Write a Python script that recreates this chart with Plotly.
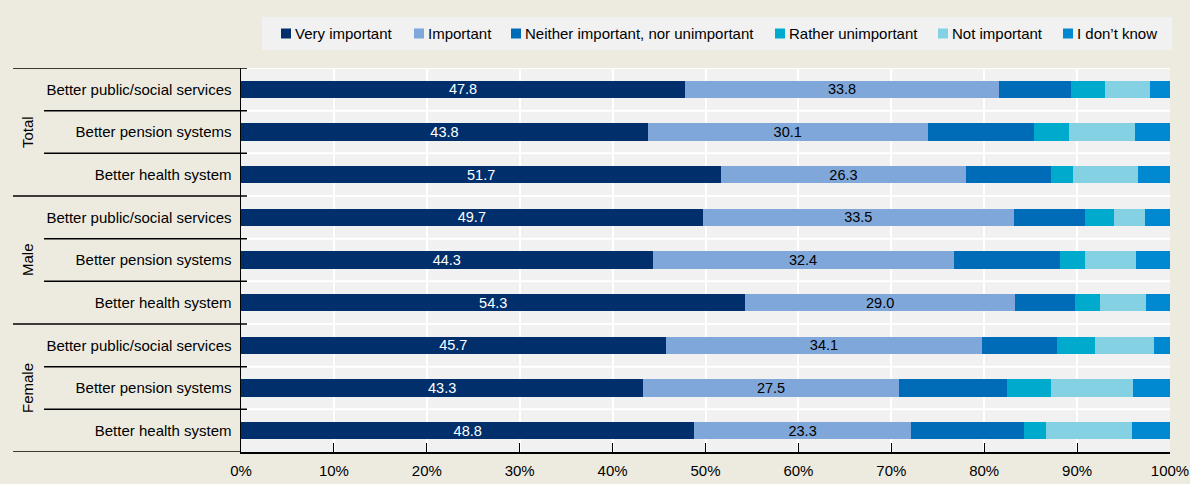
import plotly.graph_objects as go

# ---- data ----
groups = ["Total", "Male", "Female"]
items = ["Better public/social services", "Better pension systems", "Better health system"]
series_names = ["Very important", "Important", "Neither important, nor unimportant",
                "Rather unimportant", "Not important", "I don\u2019t know"]
very_important = [47.8, 43.8, 51.7, 49.7, 44.3, 54.3, 45.7, 43.3, 48.8]
important = [33.8, 30.1, 26.3, 33.5, 32.4, 29.0, 34.1, 27.5, 23.3]
neither = [7.7, 11.5, 9.2, 7.6, 11.5, 6.5, 8.0, 11.7, 12.2]
rather_unimportant = [3.7, 3.7, 2.4, 3.2, 2.7, 2.7, 4.1, 4.7, 2.3]
not_important = [4.8, 7.1, 7.0, 3.3, 5.4, 4.9, 6.4, 8.8, 9.3]
dont_know = [2.2, 3.8, 3.4, 2.7, 3.7, 2.6, 1.7, 4.0, 4.1]
x_ticks = [0, 10, 20, 30, 40, 50, 60, 70, 80, 90, 100]
x_ticktext = [f"{v}%" for v in x_ticks]

colors = ["#002F6C", "#7FA7D9", "#006BB6", "#00AACC", "#84D1E3", "#0089D0"]
values = [very_important, important, neither, rather_unimportant, not_important, dont_know]

FONT = "Liberation Sans, Arial, sans-serif"
BG = "#EDEBE0"

row_labels = [it for g in groups for it in items]
ypos = list(range(len(row_labels)))

# plot area geometry (pixels)
W, H = 1190, 484
L, R, T, B = 241, 20, 68, 32
PW, PH = W - L - R, H - T - B


def px2paper_x(px):
    return (px - L) / PW


def px2paper_y(py):
    return (H - B - py) / PH


fig = go.Figure()
for i, (name, vals, col) in enumerate(zip(series_names, values, colors)):
    kw = {}
    if i < 2:
        kw = dict(text=[f"{v:.1f}" for v in vals], textposition="inside",
                  insidetextanchor="middle", textangle=0, constraintext="none",
                  textfont=dict(family=FONT, size=14.5, color="white" if i == 0 else "black"))
    fig.add_trace(go.Bar(name=name, y=ypos, x=vals, orientation="h",
                         marker=dict(color=col, line=dict(width=0)),
                         hoverinfo="skip", showlegend=False, **kw))

shapes = []
annotations = []
n = len(row_labels)
# white horizontal grid lines at row boundaries
for k in range(n):
    shapes.append(dict(type="line", xref="x", yref="y", x0=0, x1=100, y0=k - 0.5, y1=k - 0.5,
                       line=dict(color="white", width=2), layer="below"))
# black separators in the label area
for k in range(n + 1):
    yb = k - 0.5
    is_group = (k % 3 == 0)
    x0 = px2paper_x(13) if is_group else px2paper_x(44)
    x1 = 0.0 if k == n else px2paper_x(247)
    shapes.append(dict(type="line", xref="paper", yref="y", x0=x0, x1=x1, y0=yb, y1=yb,
                       line=dict(color="black", width=1.5)))

for gi, g in enumerate(groups):
    annotations.append(dict(text=g, xref="paper", yref="y", x=px2paper_x(27), y=gi * 3 + 1,
                            textangle=-90, showarrow=False, xanchor="center", yanchor="middle",
                            font=dict(family=FONT, size=15, color="black")))

# legend (drawn as a box with swatches and labels)
shapes.append(dict(type="rect", xref="paper", yref="paper",
                   x0=px2paper_x(262), x1=px2paper_x(1172), y0=px2paper_y(50), y1=px2paper_y(17),
                   fillcolor="#F1F1F1", line=dict(width=0), layer="below"))
legend_x = [281, 414, 511, 775, 938, 1063]
ly = 33.5
for name, col, lx in zip(series_names, colors, legend_x):
    shapes.append(dict(type="rect", xref="paper", yref="paper",
                       x0=px2paper_x(lx), x1=px2paper_x(lx + 10),
                       y0=px2paper_y(ly + 5), y1=px2paper_y(ly - 5),
                       fillcolor=col, line=dict(width=0)))
    annotations.append(dict(text=name, xref="paper", yref="paper", x=px2paper_x(lx + 12),
                            y=px2paper_y(ly), xanchor="left", yanchor="middle", showarrow=False,
                            font=dict(family=FONT, size=15, color="black")))

fig.update_layout(
    barmode="stack",
    bargap=0.6,
    width=W, height=H,
    margin=dict(l=L, r=R, t=T, b=B, autoexpand=False),
    paper_bgcolor=BG,
    plot_bgcolor="#F1F1F1",
    font=dict(family=FONT, size=15, color="black"),
    shapes=shapes,
    annotations=annotations,
    showlegend=False,
    xaxis=dict(range=[0, 100], tickvals=x_ticks, ticktext=x_ticktext, showgrid=True,
               gridcolor="white", gridwidth=2, zeroline=False, showline=True,
               linecolor="black", linewidth=1.5, ticks="inside", ticklen=9,
               tickcolor="black", tickfont=dict(family=FONT, size=15), automargin=False,
               ticklabelstandoff=4),
    yaxis=dict(tickvals=ypos, ticktext=row_labels, range=[n - 0.5, -0.5],
               showgrid=False, zeroline=False, showline=True, linecolor="black",
               linewidth=1.5, ticks="", ticklabelstandoff=5,
               tickfont=dict(family=FONT, size=15), automargin=False),
)

fig.write_html("out.html", config={"displayModeBar": False, "staticPlot": True},
               post_script="document.body.style.margin='0';document.body.style.background='" + BG + "';document.body.style.overflow='hidden';")
